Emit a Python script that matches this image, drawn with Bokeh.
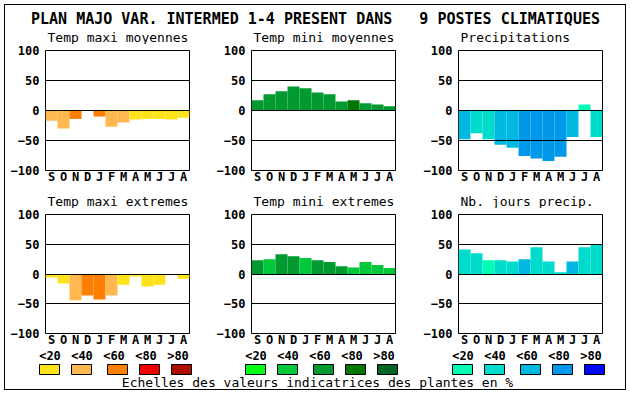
from bokeh.plotting import figure
from bokeh.models import FixedTicker, Range1d, ColumnDataSource
from bokeh.layouts import column, row
from bokeh.embed import file_html
from bokeh.resources import INLINE
from bokeh.core.properties import value

# ---------------- data ----------------
TITLE = "PLAN MAJO VAR. INTERMED 1-4 PRESENT DANS\u00a0\u00a0\u00a09 POSTES CLIMATIQUES"
CAPTION = "Echelles des valeurs indicatrices des plantes en %"
months = ["S", "O", "N", "D", "J", "F", "M", "A", "M", "J", "J", "A"]
y_ticks = [-100, -50, 0, 50, 100]
grid_ticks = [-50, 0, 50]
classes = ["<20", "<40", "<60", "<80", ">80"]

warm = ["#FFE31A", "#FFB850", "#FF8000", "#EE0000", "#AE1000"]
green = ["#00FF14", "#00C83A", "#009A30", "#007800", "#006424"]
blue = ["#00FFB4", "#00DCCC", "#00B8E0", "#0098E8", "#0008F8"]

titles_row1 = ["Temp maxi moyennes", "Temp mini moyennes", "Precipitations"]
titles_row2 = ["Temp maxi extremes", "Temp mini extremes", "Nb. jours precip."]

tmax_moy = [-17, -30, -14, 0, -10, -27, -20, -15, -14, -14, -15, -12]
tmax_moy_cls = [1, 1, 2, 0, 2, 1, 1, 0, 0, 0, 0, 0]

tmin_moy = [17, 27, 32, 40, 37, 30, 27, 15, 17, 12, 10, 7]
tmin_moy_cls = [2, 2, 2, 2, 2, 2, 2, 2, 3, 2, 2, 2]

precip = [-48, -38, -48, -57, -62, -76, -80, -84, -77, -44, 10, -44]
precip_cls = [2, 1, 1, 2, 2, 3, 3, 3, 3, 2, 0, 1]

tmax_ext = [-6, -16, -44, -36, -43, -36, -18, -4, -21, -18, 0, -8]
tmax_ext_cls = [0, 0, 1, 2, 2, 1, 0, 0, 0, 0, 0, 0]

tmin_ext = [23, 25, 33, 30, 27, 23, 20, 13, 11, 20, 15, 10]
tmin_ext_cls = [2, 1, 2, 2, 1, 2, 2, 2, 1, 1, 1, 1]

nb_jours = [41, 35, 23, 23, 21, 25, 45, 21, 3, 21, 45, 50]
nb_jours_cls = [1, 1, 0, 1, 1, 2, 1, 1, 1, 2, 1, 1]

# ---------------- layout constants ----------------
FONT = "DejaVu Sans Mono"
WIDTHS = [206, 207, 207]
FRAME_W = 144
FRAME_H = 120
LEFT = 40
FRAME_LEFTS = [45, 251, 458]   # page x of each panel frame


def strip(y0, y1):
    """A figure without axes whose data coordinates are the page pixels."""
    p = figure(width=620, height=y1 - y0, x_range=Range1d(5, 625), y_range=Range1d(y1, y0),
               output_backend="svg", toolbar_location=None,
               x_axis_type=None, y_axis_type=None, min_border=0)
    p.outline_line_color = None
    p.background_fill_color = "white"
    p.border_fill_color = "white"
    p.xgrid.visible = False
    p.ygrid.visible = False
    return p


def make_panel(vals, cls, pal, width, top, bottom):
    p = figure(width=width, height=top + FRAME_H + bottom,
               x_range=Range1d(-0.5, 11.5), y_range=Range1d(-100, 100),
               output_backend="svg", toolbar_location=None,
               min_border_left=LEFT, min_border_right=width - LEFT - FRAME_W,
               min_border_top=top, min_border_bottom=bottom)
    p.background_fill_color = "white"
    p.border_fill_color = "white"
    p.outline_line_color = "black"
    p.outline_line_width = 1
    src = ColumnDataSource(dict(x=list(range(12)), top=vals,
                                color=[pal[c] for c in cls]))
    p.vbar(x="x", top="top", bottom=0, width=1, fill_color="color",
           line_color=None, source=src)

    p.xgrid.visible = False
    p.ygrid.ticker = FixedTicker(ticks=grid_ticks)
    p.ygrid.grid_line_color = "black"
    p.ygrid.grid_line_width = 1
    p.ygrid.level = "overlay"

    for ax in (p.yaxis[0], p.xaxis[0]):
        ax.axis_line_color = None
        ax.major_tick_line_color = None
        ax.minor_tick_line_color = None
        ax.major_tick_out = 0
        ax.major_tick_in = 0
        ax.minor_tick_out = 0
        ax.minor_tick_in = 0
        ax.major_label_text_font = FONT
        ax.major_label_text_font_style = "bold"
        ax.major_label_text_font_size = "12px"
        ax.major_label_text_color = "black"

    ya = p.yaxis[0]
    ya.ticker = FixedTicker(ticks=y_ticks)
    ya.major_label_standoff = 6

    xa = p.xaxis[0]
    xa.ticker = FixedTicker(ticks=list(range(12)))
    xa.major_label_overrides = {i: m for i, m in enumerate(months)}
    xa.major_label_standoff = -1
    return p


def add_panel_titles(p, names, ymid):
    p.text(x=[fl + 2 for fl in FRAME_LEFTS], y=[ymid] * 3, text=names,
           text_font=value(FONT), text_font_size="13px", text_color="black",
           text_align="left", text_baseline="middle")


# header: main title
head = strip(5, 28)
head.text(x=[315], y=[18], text=[TITLE], text_font=value(FONT), text_font_size="15px",
          text_font_style="bold", text_align="center", text_baseline="middle",
          text_color="black")

# first row panel titles
top1 = strip(28, 44)
add_panel_titles(top1, titles_row1, 37)

row1_data = [(tmax_moy, tmax_moy_cls, warm), (tmin_moy, tmin_moy_cls, green),
             (precip, precip_cls, blue)]
row2_data = [(tmax_ext, tmax_ext_cls, warm), (tmin_ext, tmin_ext_cls, green),
             (nb_jours, nb_jours_cls, blue)]

r1 = [make_panel(d[0], d[1], d[2], WIDTHS[i], 6, 18) for i, d in enumerate(row1_data)]

mid = strip(188, 208)
add_panel_titles(mid, titles_row2, 200.5)

r2 = [make_panel(d[0], d[1], d[2], WIDTHS[i], 6, 15) for i, d in enumerate(row2_data)]

# legend strip
lf = strip(349, 389)
sw_off = [0, 32, 68, 100, 132]
lb_off = [0, 32, 64, 96, 128]
palettes = [warm, green, blue]
sl, sr, sc, lx, lt = [], [], [], [], []
for g, fl in enumerate(FRAME_LEFTS):
    for k in range(5):
        s = fl - 6 + sw_off[k]
        sl.append(s)
        sr.append(s + 20)
        sc.append(palettes[g][k])
        lx.append(fl - 6 + lb_off[k] + 10.5)
        lt.append(classes[k])
lf.quad(left=sl, right=sr, top=364, bottom=374, fill_color=sc, line_color="black", line_width=1)
lf.text(x=lx, y=[355] * len(lx), text=lt, text_font=value(FONT), text_font_size="12px",
        text_font_style="bold", text_align="center", text_baseline="middle", text_color="black")
lf.text(x=[317], y=[382], text=[CAPTION], text_font=value(FONT), text_font_size="13px",
        text_align="center", text_baseline="middle", text_color="black")

root = column(head, top1, row(*r1), mid, row(*r2), lf,
              styles={"border": "1px solid black", "background-color": "white",
                      "position": "absolute", "left": "4px", "top": "4px"})

open("out.html", "w").write(file_html(root, INLINE))
